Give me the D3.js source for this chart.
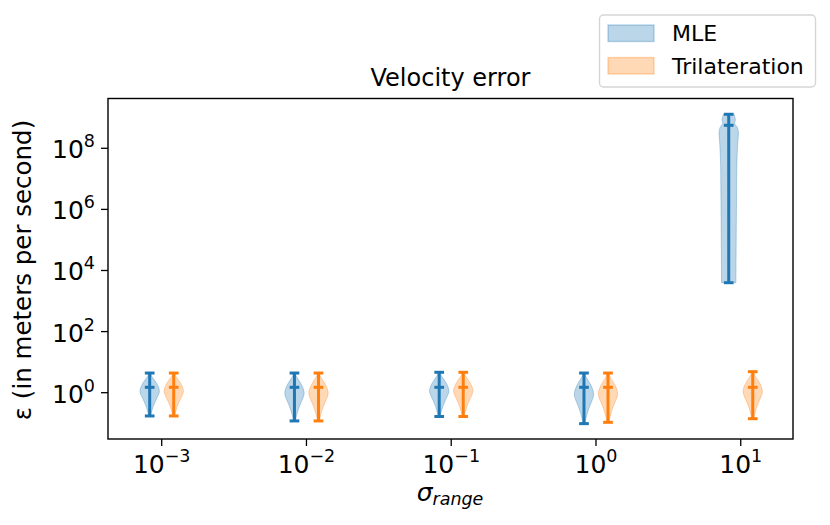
<!DOCTYPE html>
<html>
<head>
<meta charset="utf-8">
<script src="https://cdn.jsdelivr.net/npm/d3@7"></script>
<style>
body { margin: 0; background: #fff; }
text { font-family: "DejaVu Sans", sans-serif; fill: #000; }
</style>
</head>
<body>
<div id="chart"></div>
<script>
// sigma_range exponents on the x axis
var exponents = [-3, -2, -1, 0, 1];
var seriesNames = ["MLE", "Trilateration"];
var seriesColors = ["#1f77b4", "#ff7f0e"];

// per-series min / median / max of the velocity error (m/s)
var mleMin = [0.173, 0.119, 0.166, 0.097, 3980];
var mleMed = [1.5, 1.5, 1.5, 1.5, 5.66e8];
var mleMax = [4.4, 4.4, 4.65, 4.4, 1.3e9];
var triMin = [0.173, 0.119, 0.166, 0.107, 0.141];
var triMed = [1.5, 1.5, 1.5, 1.5, 1.5];
var triMax = [4.4, 4.4, 4.65, 4.4, 4.87];

// violin outline: relative position between min (0) and max (1) in log space, relative density
var smallT = [0, 0.10, 0.218, 0.335, 0.452, 0.57, 0.686, 0.80, 0.92, 1];
var smallD = [0.1, 0.2, 0.36, 0.57, 0.82, 1.0, 0.88, 0.6, 0.22, 0.1];
var bigT = [0, 0.254, 0.492, 0.73, 0.847, 0.889, 0.92, 0.947, 0.966, 1];
var bigD = [0.74, 0.77, 0.8, 0.85, 0.95, 1.0, 0.9, 0.6, 0.69, 0.55];

var yTicks = [1, 1e2, 1e4, 1e6, 1e8];

var W = 830, H = 525;
var margin = { top: 98.5, right: 37, bottom: 86, left: 108 };
var offset = 0.083, violinWidth = 0.134;

var svg = d3.select("#chart").append("svg")
    .attr("width", W)
    .attr("height", H);

var x = d3.scaleLinear()
    .domain([-0.371, 4.361])
    .range([margin.left, W - margin.right]);

var y = d3.scaleLog()
    .domain([Math.pow(10, -1.516), Math.pow(10, 9.63)])
    .range([H - margin.bottom, margin.top]);

var tickFont = 25;

// mathtext-ish 10^n label
function powLabel(sel, n) {
    sel.append("tspan").text("10");
    sel.append("tspan")
        .attr("dy", -0.44 * tickFont)
        .attr("font-size", tickFont * 0.7)
        .text(n < 0 ? "\u2212" + (-n) : n);
}

// y axis
var yAxis = svg.append("g").attr("transform", "translate(" + margin.left + ",0)");
yTicks.forEach(function (v) {
    var yy = y(v);
    yAxis.append("line")
        .attr("x1", -7).attr("x2", 0)
        .attr("y1", yy).attr("y2", yy)
        .attr("stroke", "#000").attr("stroke-width", 1.3);
    var t = yAxis.append("text")
        .attr("x", -13)
        .attr("y", yy + 10)
        .attr("text-anchor", "end")
        .attr("font-size", tickFont);
    powLabel(t, Math.round(Math.log10(v)));
});

// x axis
var xAxis = svg.append("g").attr("transform", "translate(0," + (H - margin.bottom) + ")");
exponents.forEach(function (e, i) {
    var xx = x(i);
    xAxis.append("line")
        .attr("x1", xx).attr("x2", xx)
        .attr("y1", 0).attr("y2", 7)
        .attr("stroke", "#000").attr("stroke-width", 1.3);
    var t = xAxis.append("text")
        .attr("x", xx)
        .attr("y", 34)
        .attr("text-anchor", "middle")
        .attr("font-size", tickFont);
    powLabel(t, e);
});

// violins
var halfMax = x(violinWidth / 2) - x(0);
var capHalf = x(violinWidth / 4) - x(0);

function drawViolin(cx, lo, med, hi, T, D, color) {
    var l0 = Math.log10(lo), l1 = Math.log10(hi);
    var pts = T.map(function (t, k) {
        return { v: Math.pow(10, l0 + t * (l1 - l0)), d: D[k] };
    });
    var area = d3.area()
        .y(function (p) { return y(p.v); })
        .x0(function (p) { return cx - p.d * halfMax; })
        .x1(function (p) { return cx + p.d * halfMax; })
        .curve(d3.curveCatmullRom);
    svg.append("path")
        .attr("d", area(pts))
        .attr("fill", color)
        .attr("fill-opacity", 0.3)
        .attr("stroke", color)
        .attr("stroke-opacity", 0.3)
        .attr("stroke-width", 1);
    var g = svg.append("g").attr("stroke", color).attr("stroke-width", 3);
    g.append("line").attr("x1", cx).attr("x2", cx).attr("y1", y(lo)).attr("y2", y(hi));
    [lo, med, hi].forEach(function (v) {
        g.append("line")
            .attr("x1", cx - capHalf).attr("x2", cx + capHalf)
            .attr("y1", y(v)).attr("y2", y(v));
    });
}

exponents.forEach(function (e, i) {
    var big = mleMax[i] / mleMin[i] > 1e3;
    drawViolin(x(i - offset), mleMin[i], mleMed[i], mleMax[i],
        big ? bigT : smallT, big ? bigD : smallD, seriesColors[0]);
    drawViolin(x(i + offset), triMin[i], triMed[i], triMax[i],
        smallT, smallD, seriesColors[1]);
});

// frame
svg.append("rect")
    .attr("x", margin.left).attr("y", margin.top)
    .attr("width", W - margin.right - margin.left)
    .attr("height", H - margin.bottom - margin.top)
    .attr("fill", "none")
    .attr("stroke", "#000")
    .attr("stroke-width", 1.4);

// title
svg.append("text")
    .attr("x", (margin.left + W - margin.right) / 2)
    .attr("y", 86)
    .attr("text-anchor", "middle")
    .attr("font-size", 24)
    .text("Velocity error");

// axis labels
svg.append("text")
    .attr("transform", "translate(31," + 270 + ") rotate(-90)")
    .attr("text-anchor", "middle")
    .attr("font-size", 24.5)
    .text("\u03b5 (in meters per second)");

var xl = svg.append("text")
    .attr("x", 450)
    .attr("y", 501)
    .attr("text-anchor", "middle")
    .attr("font-size", 25);
xl.append("tspan").attr("font-style", "italic").text("\u03c3");
xl.append("tspan").attr("font-style", "italic").attr("font-size", 17.5).attr("dy", 4).text("range");

// legend
var legend = svg.append("g");
legend.append("rect")
    .attr("x", 599.5).attr("y", 15)
    .attr("width", 216).attr("height", 72)
    .attr("rx", 4)
    .attr("fill", "#fff").attr("fill-opacity", 0.8)
    .attr("stroke", "#d6d6d6").attr("stroke-width", 1.4);
seriesNames.forEach(function (name, k) {
    var top = 25 + k * 32.5;
    legend.append("rect")
        .attr("x", 608).attr("y", top)
        .attr("width", 46).attr("height", 16.5)
        .attr("fill", seriesColors[k]).attr("fill-opacity", 0.3)
        .attr("stroke", seriesColors[k]).attr("stroke-opacity", 0.3)
        .attr("stroke-width", 1.4);
    legend.append("text")
        .attr("x", 672)
        .attr("y", top + 16)
        .attr("font-size", 22)
        .text(name);
});
</script>
</body>
</html>
